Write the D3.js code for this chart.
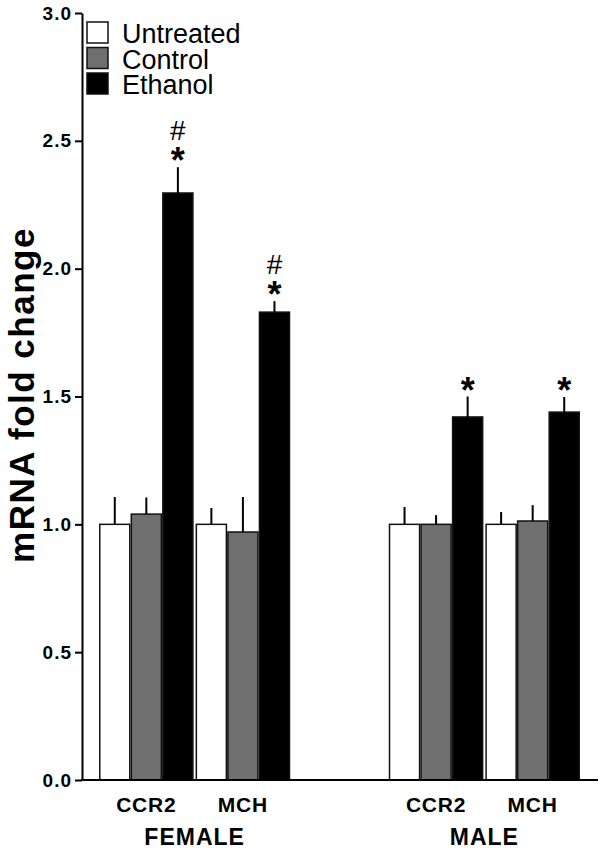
<!DOCTYPE html>
<html>
<head>
<meta charset="utf-8">
<script src="https://cdn.jsdelivr.net/npm/d3@7"></script>
<style>
  body { margin: 0; background: #fff; }
  text { font-family: "Liberation Sans", Arial, sans-serif; }
</style>
</head>
<body>
<div id="container"></div>
<script>
/* CONSTANTS AND GLOBALS */
const width = 600,
  height = 850

/* DATA */
const clusters = ["F-CCR2", "F-MCH", "M-CCR2", "M-MCH"]
const geneLabels = ["CCR2", "MCH", "CCR2", "MCH"]
const sexes = ["FEMALE", "MALE"]
const series = ["Untreated", "Control", "Ethanol"]
const untreated = [1.0, 1.0, 1.0, 1.0]
const untreatedErr = [0.107, 0.064, 0.068, 0.048]
const control = [1.04, 0.97, 1.0, 1.013]
const controlErr = [0.065, 0.137, 0.036, 0.062]
const ethanol = [2.296, 1.83, 1.42, 1.439]
const ethanolErr = [0.101, 0.043, 0.08, 0.059]
const marks = ["#*", "#*", "*", "*"]
const yTicks = [0, 0.5, 1.0, 1.5, 2.0, 2.5, 3.0]

const data = []
clusters.forEach((c, i) => {
  data.push({ cluster: c, series: "Untreated", value: untreated[i], err: untreatedErr[i] })
  data.push({ cluster: c, series: "Control", value: control[i], err: controlErr[i] })
  data.push({ cluster: c, series: "Ethanol", value: ethanol[i], err: ethanolErr[i] })
})

const svg = d3.select("#container")
  .append("svg")
  .attr("width", width)
  .attr("height", height)

/* SCALES */
const yScale = d3.scaleLinear()
  .domain([0, 3])
  .range([780, 13])

// a blank slot between the two sexes
const xOuter = d3.scaleBand()
  .domain(["F-CCR2", "F-MCH", "gap", "M-CCR2", "M-MCH"])
  .range([99, 580])
  .paddingInner(0.02)

const xInner = d3.scaleBand()
  .domain(series)
  .range([0, xOuter.bandwidth()])

const colorScale = d3.scaleOrdinal()
  .domain(series)
  .range(["#ffffff", "#6f6f6f", "#000000"])

/* BARS */
svg.selectAll(".bar")
  .data(data)
  .join("rect")
  .attr("class", "bar")
  .attr("x", d => xOuter(d.cluster) + xInner(d.series) + 0.75)
  .attr("y", d => yScale(d.value))
  .attr("width", xInner.bandwidth() - 1.5)
  .attr("height", d => yScale(0) - yScale(d.value))
  .style("fill", d => colorScale(d.series))
  .style("stroke", "#111")
  .style("stroke-width", 1.5)

// error bars, upper whisker only
svg.selectAll(".err")
  .data(data)
  .join("line")
  .attr("class", "err")
  .attr("x1", d => xOuter(d.cluster) + xInner(d.series) + xInner.bandwidth() / 2)
  .attr("x2", d => xOuter(d.cluster) + xInner(d.series) + xInner.bandwidth() / 2)
  .attr("y1", d => yScale(d.value))
  .attr("y2", d => yScale(d.value + d.err))
  .style("stroke", "#000")
  .style("stroke-width", 2)

/* SIGNIFICANCE MARKS */
const ethData = data.filter(d => d.series === "Ethanol")
ethData.forEach((d, i) => {
  const cx = xOuter(d.cluster) + xInner("Ethanol") + xInner.bandwidth() / 2
  const top = yScale(d.value + d.err)
  svg.append("text")
    .attr("x", cx)
    .attr("y", top + 6)
    .attr("text-anchor", "middle")
    .style("font-size", "36px")
    .style("font-weight", "bold")
    .text("*")
  if (marks[i].includes("#")) {
    svg.append("text")
      .attr("x", cx)
      .attr("y", top - 27)
      .attr("text-anchor", "middle")
      .style("font-size", "28px")
      .text("#")
  }
})

/* AXES */
svg.append("g")
  .attr("class", "y-axis")
  .attr("transform", "translate(82,0)")
  .call(d3.axisLeft(yScale).tickValues(yTicks).tickFormat(d3.format(".1f")).tickSize(7).tickSizeOuter(0))
  .call(g => g.select(".domain").style("stroke-width", 2))
  .call(g => g.selectAll(".tick line").style("stroke-width", 2))
  .selectAll("text")
  .attr("x", -10)
  .style("font-size", "19px")
  .style("letter-spacing", "1px")
  .style("font-weight", "bold")
  .style("font-family", "Liberation Sans, Arial, sans-serif")

svg.append("line")
  .attr("x1", 81)
  .attr("x2", 598)
  .attr("y1", yScale(0))
  .attr("y2", yScale(0))
  .style("stroke", "#000")
  .style("stroke-width", 2)

svg.selectAll(".gene")
  .data(clusters)
  .join("text")
  .attr("class", "gene")
  .attr("x", d => xOuter(d) + xOuter.bandwidth() / 2)
  .attr("y", 812)
  .attr("text-anchor", "middle")
  .style("font-size", "21px")
  .style("letter-spacing", "0.8px")
  .style("font-weight", "bold")
  .text((d, i) => geneLabels[i])

svg.selectAll(".sex")
  .data(sexes)
  .join("text")
  .attr("class", "sex")
  .attr("x", (d, i) => i === 0
    ? (xOuter("F-CCR2") + xOuter("F-MCH") + xOuter.bandwidth()) / 2
    : (xOuter("M-CCR2") + xOuter("M-MCH") + xOuter.bandwidth()) / 2)
  .attr("y", 845)
  .attr("text-anchor", "middle")
  .style("font-size", "23px")
  .style("letter-spacing", "1px")
  .style("font-weight", "bold")
  .text(d => d)

svg.append("text")
  .attr("transform", "translate(34,395) rotate(-90)")
  .attr("text-anchor", "middle")
  .style("font-size", "35px")
  .style("letter-spacing", "1.5px")
  .style("font-weight", "bold")
  .text("mRNA fold change")

/* LEGEND */
const legend = svg.append("g")
  .attr("transform", "translate(87,22)")

legend.selectAll("rect")
  .data(series)
  .join("rect")
  .attr("x", 0)
  .attr("y", (d, i) => i * 25.5)
  .attr("width", 21)
  .attr("height", 21)
  .style("fill", d => colorScale(d))
  .style("stroke", "#111")
  .style("stroke-width", 1.5)

legend.selectAll("text")
  .data(series)
  .join("text")
  .attr("x", 35)
  .attr("y", (d, i) => i * 25.5 + 21)
  .style("font-size", "27px")
  .text(d => d)
</script>
</body>
</html>
